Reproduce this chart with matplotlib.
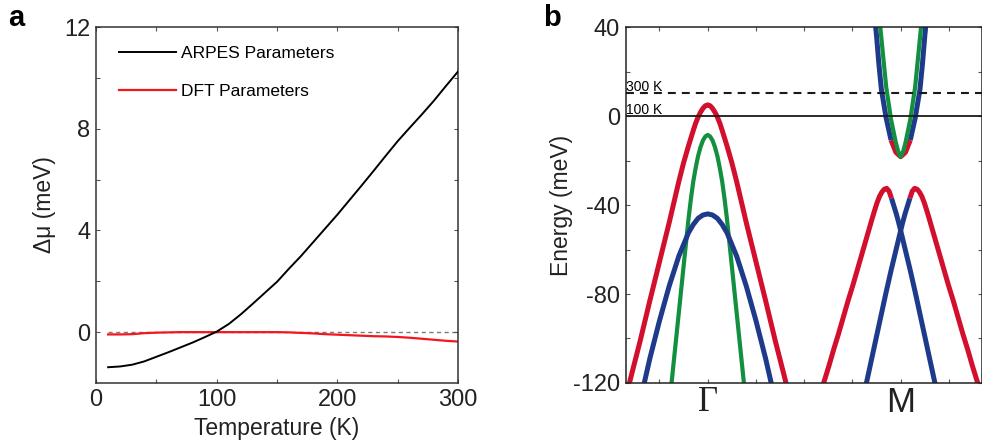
import numpy as np
import matplotlib
matplotlib.use("Agg")
from matplotlib import pyplot as plt

plt.rcParams['font.family'] = ['Liberation Sans', 'DejaVu Sans']
plt.rcParams['axes.unicode_minus'] = False

# ---- panel a: chemical potential shift vs temperature ----
temps = [10, 20, 30, 40, 50, 60, 70, 80, 90, 100, 110, 120, 130, 140, 150,
         160, 170, 180, 190, 200, 210, 220, 230, 240, 250, 260, 270, 280, 290, 300]
mu_arpes = [-1.38, -1.35, -1.28, -1.15, -0.97, -0.79, -0.60, -0.41, -0.20, 0.02,
            0.32, 0.70, 1.12, 1.55, 1.98, 2.50, 3.00, 3.54, 4.08, 4.62,
            5.19, 5.76, 6.34, 6.93, 7.51, 8.04, 8.56, 9.10, 9.68, 10.25]
mu_dft = [-0.09, -0.09, -0.08, -0.04, -0.02, -0.01, 0.0, 0.0, 0.0, 0.0,
          0.0, 0.0, 0.0, 0.0, 0.0, -0.01, -0.03, -0.05, -0.08, -0.10,
          -0.12, -0.14, -0.16, -0.17, -0.19, -0.22, -0.26, -0.30, -0.34, -0.37]

# ---- panel b: band dispersions (k in tick units, Gamma = 0, M = 4) ----
GAMMA_POS = 0.0
M_POS = 4.0
mu_100K = 0.0
mu_300K = 10.25

# hole bands at Gamma (half branches, symmetric)
g_red_k = [0, 0.05, 0.1, 0.15, 0.2, 0.25, 0.3, 0.4, 0.5, 0.6, 0.8, 1.0, 1.2, 1.4, 1.6, 1.75]
g_red_e = [5, 4.6, 3.4, 1.7, -0.5, -3.2, -6.5, -13.5, -21, -29.5, -48, -65.5, -83, -101, -118, -131]
g_green_k = [0, 0.05, 0.1, 0.15, 0.2, 0.25, 0.3, 0.35, 0.4, 0.5, 0.6, 0.7, 0.8]
g_green_e = [-8.5, -9.2, -11, -14, -18, -23.3, -29.5, -37.5, -46.5, -67.5, -88.5, -109.5, -130.5]
g_blue_k = [0, 0.1, 0.2, 0.3, 0.4, 0.6, 0.8, 1.0, 1.2, 1.4]
g_blue_e = [-44, -44.5, -46, -48.8, -52.5, -63, -76.5, -92, -109, -128]

# electron bands at M (half branches, relative to M)
m_out_k = [0, 0.1, 0.2, 0.3, 0.4, 0.45, 0.5, 0.55]
m_out_e = [-18.3, -16.3, -10.8, -1, 12, 23, 36, 47]
m_in_k = [0, 0.05, 0.1, 0.2, 0.3, 0.4, 0.46]
m_in_e = [-18.3, -16, -12, -1.5, 13, 35, 48]

# hole bands near M (left one; right one is its mirror about M)
mh_red_k = [2.33, 2.41, 2.51, 2.61, 2.71, 2.81, 2.91, 3.01, 3.11, 3.21, 3.31,
            3.41, 3.46, 3.51, 3.56, 3.61, 3.66, 3.71, 3.76, 3.81]
mh_red_e = [-125.5, -119.5, -112.5, -105, -98, -90.5, -83, -76, -68.5, -61, -53.5,
            -46, -42.4, -39, -36.2, -34.2, -32.9, -32.5, -33.8, -37]
mh_blue_k = [3.81, 3.86, 3.91, 3.96, 4.0, 4.10, 4.20, 4.31, 4.50, 4.71, 4.76]
mh_blue_e = [-37, -40.5, -44, -48, -51.5, -60.5, -69.5, -80, -99, -120, -125]

RED = '#d20f2d'
GREEN = '#129040'
BLUE = '#1e3b8b'


def mirror(k, e, center):
    k = np.asarray(k, float)
    e = np.asarray(e, float)
    kk = np.concatenate([center - k[::-1], center + k[1:]])
    ee = np.concatenate([e[::-1], e[1:]])
    return kk, ee


fig = plt.figure(figsize=(9.82, 4.48), dpi=100)
axa = fig.add_axes([0.0978, 0.1451, 0.3686, 0.7946])
axb = fig.add_axes([0.6372, 0.1451, 0.3625, 0.7946])

# panel a
axa.plot([temps[0], temps[-1]], [0, 0], ls=(0, (3, 2.5)), color='#7a7a7a', lw=1.0, zorder=1)
axa.plot(temps, mu_arpes, color='black', lw=1.4, label='ARPES Parameters', zorder=3)
axa.plot(temps, mu_dft, color='#f2161e', lw=1.6, label='DFT Parameters', zorder=2)
axa.set_xlim(0, 300)
axa.set_ylim(-2, 12)
axa.set_xticks([0, 100, 200, 300])
axa.set_xticks([50, 150, 250], minor=True)
axa.set_yticks([0, 4, 8, 12])
axa.set_yticks([2, 6, 10], minor=True)
axa.tick_params(which='both', direction='in', top=True, right=True, length=3,
                width=0.8, color='#555555', labelsize=17, pad=4, labelcolor='#222222')
for s in axa.spines.values():
    s.set_linewidth(1.1)
    s.set_color('#333333')
axa.set_xlabel('Temperature (K)', fontsize=16.5, labelpad=5, color='#222222')
axa.set_ylabel('Δμ (meV)', fontsize=16.5, labelpad=6, color='#222222')
axa.legend(loc='upper left', bbox_to_anchor=(0.063, 0.948), frameon=False,
           fontsize=12.5, handlelength=3.3, handletextpad=0.3, labelspacing=1.34,
           borderpad=0, borderaxespad=0)

# panel b
lw_band = 3.6
kw = dict(solid_capstyle='butt', solid_joinstyle='round')
k, e = mirror(g_red_k, g_red_e, GAMMA_POS)
axb.plot(k, e, color=RED, lw=lw_band, zorder=2, **kw)
k, e = mirror(g_green_k, g_green_e, GAMMA_POS)
axb.plot(k, e, color=GREEN, lw=3.0, zorder=2.1, **kw)
k, e = mirror(g_blue_k, g_blue_e, GAMMA_POS)
axb.plot(k, e, color=BLUE, lw=lw_band, zorder=2.2, **kw)

# electron pocket at M: outer band red at the bottom, blue on the arms
k, e = mirror(m_out_k[:3], m_out_e[:3], M_POS)
axb.plot(k, e, color=RED, lw=lw_band, zorder=2, **kw)
axb.plot(M_POS - np.array(m_out_k[2:]), m_out_e[2:], color=BLUE, lw=lw_band, zorder=2, **kw)
axb.plot(M_POS + np.array(m_out_k[2:]), m_out_e[2:], color=BLUE, lw=lw_band, zorder=2, **kw)
k, e = mirror(m_in_k, m_in_e, M_POS)
axb.plot(k, e, color=GREEN, lw=3.0, zorder=2.1, **kw)

# hole bands near M
for sign in (1, -1):
    kr = M_POS + sign * (np.array(mh_red_k) - M_POS)
    kb = M_POS + sign * (np.array(mh_blue_k) - M_POS)
    axb.plot(kr, mh_red_e, color=RED, lw=lw_band, zorder=2, **kw)
    axb.plot(kb, mh_blue_e, color=BLUE, lw=lw_band, zorder=2.2, **kw)

# chemical potential lines
axb.axhline(mu_100K, color='#1a1a1a', lw=1.3, zorder=3)
axb.axhline(mu_300K, color='#1a1a1a', lw=1.5, ls=(0, (3.8, 2.9)), zorder=3)
axb.annotate('300 K', xy=(0.002, mu_300K), xycoords=('axes fraction', 'data'),
             xytext=(0, 1.8), textcoords='offset points', fontsize=10,
             va='baseline', ha='left', zorder=4)
axb.annotate('100 K', xy=(0.002, mu_100K), xycoords=('axes fraction', 'data'),
             xytext=(0, 1.8), textcoords='offset points', fontsize=10,
             va='baseline', ha='left', zorder=4)

axb.set_xlim(-1.70, 5.68)
axb.set_ylim(-120, 40)
axb.set_yticks([-120, -80, -40, 0, 40])
axb.set_yticks([-100, -60, -20, 20], minor=True)
axb.set_xticks([GAMMA_POS, M_POS])
axb.set_xticks([-1, 1, 2, 3, 5], minor=True)
axb.set_xticklabels(['Γ', 'M'])
for lab, fam in zip(axb.get_xticklabels(), ['Liberation Serif', 'Liberation Sans']):
    lab.set_family(fam)
    lab.set_fontsize(25)
axb.tick_params(which='both', direction='in', top=True, right=True, length=3,
                width=0.8, color='#555555')
axb.tick_params(axis='y', labelsize=17, pad=4, labelcolor='#222222')
axb.tick_params(axis='x', pad=2, labelcolor='#222222')
for s in axb.spines.values():
    s.set_linewidth(1.1)
    s.set_color('#222222')
axb.set_ylabel('Energy (meV)', fontsize=16.5, labelpad=0, color='#222222')

fig.text(0.008, 0.99, 'a', fontsize=21, fontweight='bold', va='top', ha='left')
fig.text(0.553, 0.99, 'b', fontsize=21, fontweight='bold', va='top', ha='left')

fig.savefig('out.png', dpi=100)
